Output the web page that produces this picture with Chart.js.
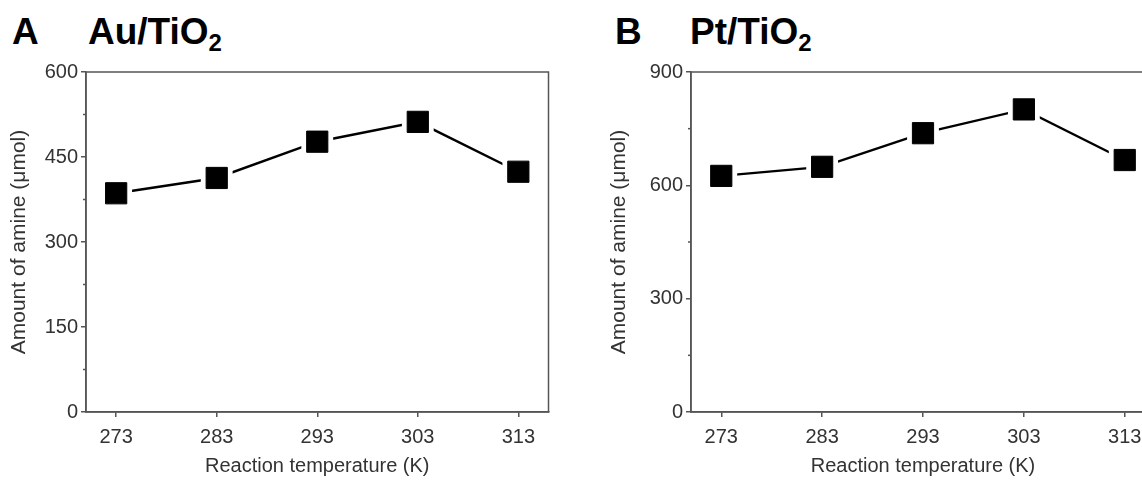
<!DOCTYPE html>
<html>
<head>
<meta charset="utf-8">
<script src="https://cdn.jsdelivr.net/npm/chart.js@4.4.1/dist/chart.umd.min.js"></script>
<style>
  html, body { margin: 0; padding: 0; background: #fff; overflow: hidden; width: 1142px; height: 482px; }
  .panel { position: absolute; top: 0; height: 482px; }
  .label { position: absolute; top: 14px; font: bold 37px "Liberation Sans", Arial, sans-serif; line-height: 36px; color: #000; white-space: nowrap; }
  .label span { position: relative; top: 7px; font-size: 24px; }
</style>
</head>
<body>
<div class="label" style="left:12px">A</div>
<div class="label" style="left:88px">Au/TiO<span>2</span></div>
<div class="label" style="left:615px">B</div>
<div class="label" style="left:690px">Pt/TiO<span>2</span></div>

<div class="panel" style="left:0; width:571px;"><canvas id="chartA"></canvas></div>
<div class="panel" style="left:600px; width:600px;"><canvas id="chartB"></canvas></div>

<script>
// данные
const temps = [273, 283, 293, 303, 313];
const amineAu = [386, 413, 477, 512, 424];
const aminePt = [625, 649, 738, 801, 667];
const yTicksAu = [0, 150, 300, 450, 600];
const yTicksPt = [0, 300, 600, 900];

const FONT = '"Liberation Sans", Arial, sans-serif';
const AXIS = '#555';

// рамка вокруг графика + короткие промежуточные засечки на оси Y
const framePlugin = {
  id: 'frame',
  afterDraw(chart) {
    const { ctx, chartArea: a, scales } = chart;
    ctx.save();
    ctx.strokeStyle = AXIS;
    ctx.lineWidth = 1.5;
    ctx.strokeRect(a.left, a.top, a.right - a.left, a.bottom - a.top);
    const major = chart.options.scales.y.majorTicks;
    for (let i = 0; i < major.length - 1; i++) {
      const y = scales.y.getPixelForValue((major[i] + major[i + 1]) / 2);
      ctx.beginPath();
      ctx.moveTo(a.left - 3, y);
      ctx.lineTo(a.left, y);
      ctx.stroke();
    }
    ctx.restore();
  }
};

function makeChart(id, values, yTicks, yWidth, padRight) {
  const pts = temps.map((t, i) => ({ x: t, y: values[i] }));
  return new Chart(document.getElementById(id), {
    type: 'line',
    data: {
      datasets: [
        { data: pts, showLine: false, pointStyle: 'rect', pointRadius: 15, pointBackgroundColor: '#000', pointBorderColor: '#000', pointBorderWidth: 1, order: 0 },
        { data: pts, showLine: false, pointStyle: 'rect', pointRadius: 22.5, pointBackgroundColor: '#fff', pointBorderWidth: 0, order: 1 },
        { data: pts, borderColor: '#000', borderWidth: 2.4, pointRadius: 0, order: 2 }
      ]
    },
    options: {
      responsive: true,
      maintainAspectRatio: false,
      animation: false,
      devicePixelRatio: 1,
      layout: { padding: { left: 0, top: 72, right: padRight, bottom: 0 } },
      plugins: { legend: { display: false }, tooltip: { enabled: false } },
      scales: {
        x: {
          type: 'linear',
          min: 270, max: 316,
          afterBuildTicks: s => { s.ticks = temps.map(v => ({ value: v })); },
          afterFit: s => { s.height = 70; },
          grid: { drawOnChartArea: false, drawTicks: true, tickLength: 5, color: AXIS, lineWidth: 1.5 },
          border: { display: true, color: AXIS, width: 1.5 },
          ticks: { color: '#333', font: { family: FONT, size: 20 }, padding: 8, maxRotation: 0 },
          title: { display: true, text: 'Reaction temperature (K)', color: '#333', font: { family: FONT, size: 20 }, padding: { top: 0, bottom: 4 } }
        },
        y: {
          min: 0, max: yTicks[yTicks.length - 1],
          majorTicks: yTicks,
          afterBuildTicks: s => { s.ticks = yTicks.map(v => ({ value: v })); },
          afterFit: s => { s.width = yWidth; },
          grid: { drawOnChartArea: false, drawTicks: true, tickLength: 5, color: AXIS, lineWidth: 1.5 },
          border: { display: true, color: AXIS, width: 1.5 },
          ticks: { color: '#333', font: { family: FONT, size: 20 }, padding: 3 },
          title: { display: true, text: 'Amount of amine (μmol)', color: '#333', font: { family: FONT, size: 21 }, padding: { top: 7, bottom: 0 } }
        }
      }
    },
    plugins: [framePlugin]
  });
}

makeChart('chartA', amineAu, yTicksAu, 86, 21);
makeChart('chartB', aminePt, yTicksPt, 91, 45);
</script>
</body>
</html>
